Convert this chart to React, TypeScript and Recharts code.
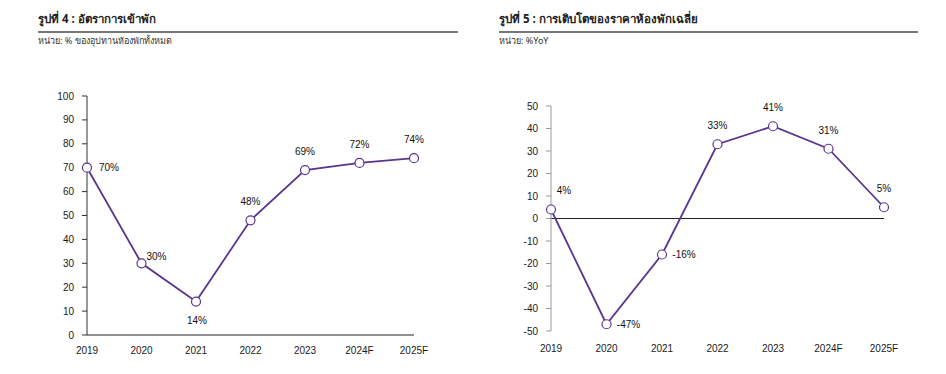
import React from 'react';
import {
  LineChart,
  Line,
  XAxis,
  YAxis,
  LabelList,
  ReferenceLine,
} from 'recharts';

// Shared categories
const years = ['2019', '2020', '2021', '2022', '2023', '2024F', '2025F'];

// Figure 4: occupancy rate (% of total room supply)
const occupancy = [70, 30, 14, 48, 69, 72, 74];
const occupancyTicks = [0, 10, 20, 30, 40, 50, 60, 70, 80, 90, 100];
const occupancyLabelSide = ['right', 'upRight', 'below', 'above', 'above', 'above', 'above'];

// Figure 5: average room rate growth (%YoY)
const roomRateGrowth = [4, -47, -16, 33, 41, 31, 5];
const growthTicks = [-50, -40, -30, -20, -10, 0, 10, 20, 30, 40, 50];
const growthLabelSide = ['upRightHigh', 'right', 'right', 'above', 'above', 'above', 'above'];

const PURPLE = '#5a358f';
const FONT = '"Liberation Sans", Arial, sans-serif';
const THAI_FONT = 'Tahoma, "Noto Sans", "DejaVu Sans", sans-serif';

const SIDE_OFFSET: Record<string, [number, number]> = {
  right: [22, 0],
  upRight: [15, -7],
  upRightHigh: [13, -19],
  below: [1, 19],
  above: [0, -18.5],
};

function buildRows(values: number[]) {
  return years.map((year, i) => ({ year, value: values[i] }));
}

function makeLabel(sides: string[]) {
  return (props: any) => {
    const { x, y, value, index } = props;
    const [dx, dy] = SIDE_OFFSET[sides[index]] || [0, -18];
    return (
      <text
        x={x + dx}
        y={y + dy}
        textAnchor="middle"
        dominantBaseline="central"
        fontFamily={FONT}
        fontSize={10}
        fill="#111"
      >
        {value}%
      </text>
    );
  };
}

const dotStyle = { r: 4.5, fill: '#fff', stroke: PURPLE, strokeWidth: 1.2 };

function Header({ left, width, title, unit }: { left: number; width: number; title: string; unit: string }) {
  return (
    <div style={{ position: 'absolute', left, top: 10, width, fontFamily: THAI_FONT }}>
      <div
        style={{
          fontSize: 11.5,
          fontWeight: 'bold',
          color: '#222',
          lineHeight: '18px',
          paddingBottom: 3,
          borderBottom: '2px solid #777',
        }}
      >
        {title}
      </div>
      <div style={{ fontSize: 9, color: '#333', lineHeight: '14px', marginTop: 1 }}>{unit}</div>
    </div>
  );
}

export default function App() {
  const occRows = buildRows(occupancy);
  const growthRows = buildRows(roomRateGrowth);
  const tickStyle = { fontFamily: FONT, fontSize: 10, fill: '#1a1a1a' };

  return (
    <div style={{ position: 'absolute', left: 0, top: 0, width: 946, height: 374, background: '#fff' }}>
      <Header left={38} width={420} title="รูปที่ 4 : อัตราการเข้าพัก" unit="หน่วย: % ของอุปทานห้องพักทั้งหมด" />
      <Header left={499} width={419} title="รูปที่ 5 : การเติบโตของราคาห้องพักเฉลี่ย" unit="หน่วย: %YoY" />

      <div style={{ position: 'absolute', left: 0, top: 0 }}>
        <LineChart width={460} height={374} data={occRows} margin={{ top: 96, right: 46, bottom: 19, left: 47 }}>
          <XAxis
            dataKey="year"
            padding={{ left: 0, right: 0 }}
            tickLine={false}
            tickMargin={6}
            height={20}
            interval={0}
            axisLine={{ stroke: '#222' }}
            tick={tickStyle}
          />
          <YAxis
            width={40}
            domain={[0, 100]}
            ticks={occupancyTicks}
            interval={0}
            tickSize={5}
            tickMargin={8}
            axisLine={{ stroke: '#333' }}
            tickLine={{ stroke: '#333' }}
            tick={tickStyle}
          />
          <Line
            type="linear"
            dataKey="value"
            stroke={PURPLE}
            strokeWidth={1.8}
            dot={dotStyle}
            activeDot={false}
            isAnimationActive={false}
          >
            <LabelList dataKey="value" content={makeLabel(occupancyLabelSide)} />
          </Line>
        </LineChart>
      </div>

      <div style={{ position: 'absolute', left: 460, top: 0 }}>
        <LineChart width={486} height={374} data={growthRows} margin={{ top: 106, right: 62, bottom: 23, left: 51 }}>
          <XAxis
            dataKey="year"
            padding={{ left: 0, right: 0 }}
            tickLine={false}
            axisLine={false}
            tickMargin={8}
            height={20}
            interval={0}
            tick={tickStyle}
          />
          <YAxis
            width={40}
            domain={[-50, 50]}
            ticks={growthTicks}
            interval={0}
            tickSize={5}
            tickMargin={8}
            axisLine={{ stroke: '#999' }}
            tickLine={{ stroke: '#999' }}
            tick={tickStyle}
          />
          <ReferenceLine y={0} stroke="#222" strokeWidth={1} />
          <Line
            type="linear"
            dataKey="value"
            stroke={PURPLE}
            strokeWidth={1.8}
            dot={dotStyle}
            activeDot={false}
            isAnimationActive={false}
          >
            <LabelList dataKey="value" content={makeLabel(growthLabelSide)} />
          </Line>
        </LineChart>
      </div>
    </div>
  );
}
